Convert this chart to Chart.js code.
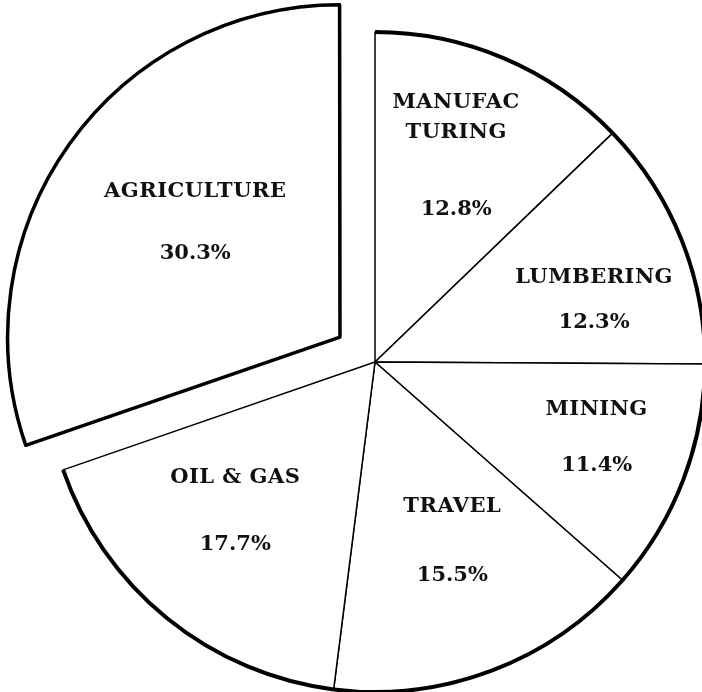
<!DOCTYPE html>
<html>
<head>
<meta charset="utf-8">
<script src="https://cdn.jsdelivr.net/npm/chart.js@4.4.0/dist/chart.umd.min.js"></script>
<style>
  body { margin: 0; background: #fff; }
  #wrap { width: 702px; height: 692px; }
</style>
</head>
<body>
<div id="wrap"><canvas id="industry-chart" width="702" height="692"></canvas></div>
<script>
// slices go clockwise from 12 o'clock
var sectors = ["MANUFACTURING", "LUMBERING", "MINING", "TRAVEL", "OIL & GAS", "AGRICULTURE"];
var sectorLines = [["MANUFAC", "TURING"], ["LUMBERING"], ["MINING"], ["TRAVEL"], ["OIL & GAS"], ["AGRICULTURE"]];
var shares = [12.8, 12.3, 11.4, 15.5, 17.7, 30.3];
var pulledOut = [false, false, false, false, false, true];

// label placement inside each slice: depth (fraction of radius), turn (deg), gap name->percent (px)
var labelDepth = [0.67, 0.69, 0.71, 0.59, 0.62, 0.56];
var labelTurn = [-1.5, 6, -2, -2.7, 4, 3];
var labelGap = [77, 45, 56, 69, 67, 62];

var pieDecor = {
    id: "pieDecor",
    afterDatasetsDraw: function(chart){
        var ctx = chart.ctx;
        var arcs = chart.getDatasetMeta(0).data;
        ctx.save();
        arcs.forEach(function(arc, i){
            var p = arc.getProps(["x", "y", "startAngle", "endAngle", "outerRadius"], true);
            var mid = (p.startAngle + p.endAngle) / 2;
            var shift = (arc.options.offset || 0) / 4;
            var cx = p.x + Math.cos(mid) * shift;
            var cy = p.y + Math.sin(mid) * shift;
            // heavy rim
            if(!pulledOut[i]){
                ctx.beginPath();
                ctx.arc(cx, cy, p.outerRadius, p.startAngle, p.endAngle);
                ctx.lineWidth = 4;
                ctx.strokeStyle = "#000";
                ctx.stroke();
            }
            // labels
            var a = mid + labelTurn[i] * Math.PI / 180;
            var r = p.outerRadius * labelDepth[i];
            var lx = cx + Math.cos(a) * r;
            var ly = cy + Math.sin(a) * r;
            var lines = sectorLines[i];
            var lineGap = 30;
            var blockH = (lines.length - 1) * lineGap + labelGap[i];
            var y0 = ly - blockH / 2;
            ctx.fillStyle = "#111";
            ctx.textAlign = "center";
            ctx.textBaseline = "middle";
            ctx.font = "bold 21px 'DejaVu Serif'";
            ctx.letterSpacing = "0.5px";
            lines.forEach(function(t, k){
                ctx.fillText(t, lx, y0 + k * lineGap);
            });
            ctx.letterSpacing = "0px";
            ctx.fillText(shares[i].toFixed(1) + "%", lx, y0 + (lines.length - 1) * lineGap + labelGap[i]);
        });
        ctx.restore();
    }
};

function main(){
    "use strict";
    new Chart("industry-chart", {
        type: "pie",
        data: {
            labels: sectors,
            datasets: [{
                data: shares,
                backgroundColor: "#fff",
                borderColor: "#000",
                borderWidth: pulledOut.map(function(p){ return p ? 3.5 : 1.5; }),
                borderJoinStyle: "round",
                offset: pulledOut.map(function(p){ return p ? 172 : 0; })
            }]
        },
        options: {
            responsive: false,
            animation: false,
            radius: 330,
            layout: { padding: { left: 48, top: 32, right: 0, bottom: 0 } },
            plugins: {
                legend: { display: false },
                tooltip: { enabled: false }
            }
        },
        plugins: [pieDecor]
    });
}

main();
</script>
</body>
</html>
